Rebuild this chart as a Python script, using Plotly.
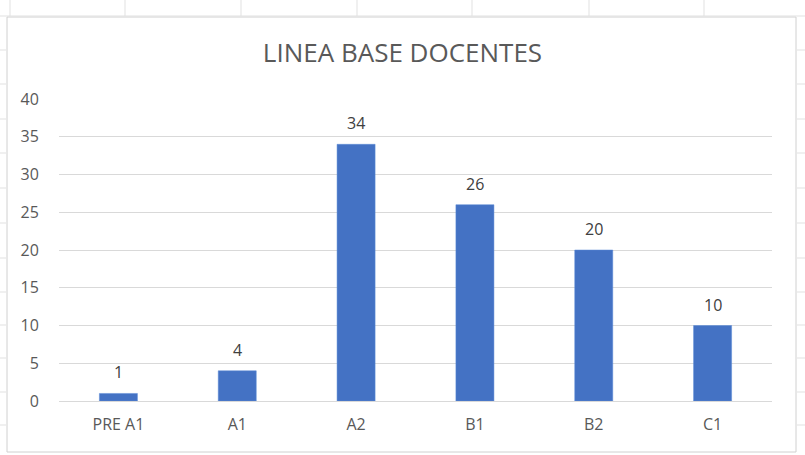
import plotly.graph_objects as go

categories = ["PRE A1", "A1", "A2", "B1", "B2", "C1"]
values = [1, 4, 34, 26, 20, 10]
y_ticks = [0, 5, 10, 15, 20, 25, 30, 35, 40]

W, H = 805, 455
L, R, T, B = 59, 33, 99, 54
FONT = "Open Sans, Liberation Sans, sans-serif"

fig = go.Figure(go.Bar(
    x=categories, y=values, width=0.32,
    marker=dict(color="#4472C4", line=dict(color="#5B8BD6", width=0.5)),
    hoverinfo="x+y",
))

# data labels above bars
annotations = [
    dict(x=c, y=v, xref="x", yref="y", text=str(v), showarrow=False,
         yanchor="bottom", yshift=8,
         font=dict(family=FONT, size=16, color="#404040"))
    for c, v in zip(categories, values)
]

def px(x):
    return (x - L) / (W - L - R)

def py(y):
    return (H - B - y) / (H - T - B)

shapes = [
    # chart area border
    dict(type="rect", xref="paper", yref="paper",
         x0=px(7), x1=px(796), y0=py(452), y1=py(17),
         line=dict(color="#D0D0D0", width=1), fillcolor="rgba(0,0,0,0)", layer="below"),
    # sheet gridline above chart
    dict(type="line", xref="paper", yref="paper",
         x0=px(0), x1=px(805), y0=py(16), y1=py(16),
         line=dict(color="#E1E1E1", width=1), layer="below"),
]
# spreadsheet row lines visible at the sides of the chart
for row_y in [50, 84, 119, 153, 188, 223, 258, 292, 325, 358, 392, 425]:
    for xa, xb in [(0, 6), (797, 805)]:
        shapes.append(dict(type="line", xref="paper", yref="paper",
                           x0=px(xa), x1=px(xb), y0=py(row_y), y1=py(row_y),
                           line=dict(color="#E1E1E1", width=1), layer="below"))
# spreadsheet column lines above the chart
for col_x in [10, 125, 241, 357, 472, 589, 704]:
    shapes.append(dict(type="line", xref="paper", yref="paper",
                       x0=px(col_x), x1=px(col_x), y0=py(16), y1=py(0),
                       line=dict(color="#E1E1E1", width=1), layer="below"))

fig.update_layout(
    width=W, height=H,
    margin=dict(l=L, r=R, t=T, b=B),
    paper_bgcolor="white", plot_bgcolor="white",
    title=dict(text="LINEA BASE DOCENTES", x=0.5, xanchor="center", y=1 - 53 / H, yanchor="middle",
               font=dict(family=FONT, size=26, color="#595959")),
    font=dict(family=FONT, color="#595959"),
    xaxis=dict(showgrid=False, showline=True, linecolor="#D9D9D9", linewidth=1,
               tickfont=dict(size=16, color="#595959"),
               ticks="outside", ticklen=9, tickcolor="rgba(0,0,0,0)"),
    yaxis=dict(range=[0, 40], tickvals=y_ticks, showgrid=True, gridcolor="#D9D9D9", gridwidth=1,
               zeroline=False, showline=False, tickfont=dict(size=16, color="#595959"),
               ticks="outside", ticklen=16, tickcolor="rgba(0,0,0,0)"),
    shapes=shapes,
    annotations=annotations,
    showlegend=False,
)

fig.write_html("out.html", config={"displayModeBar": False},
               post_script="document.body.style.margin='0';document.body.style.padding='0';")
